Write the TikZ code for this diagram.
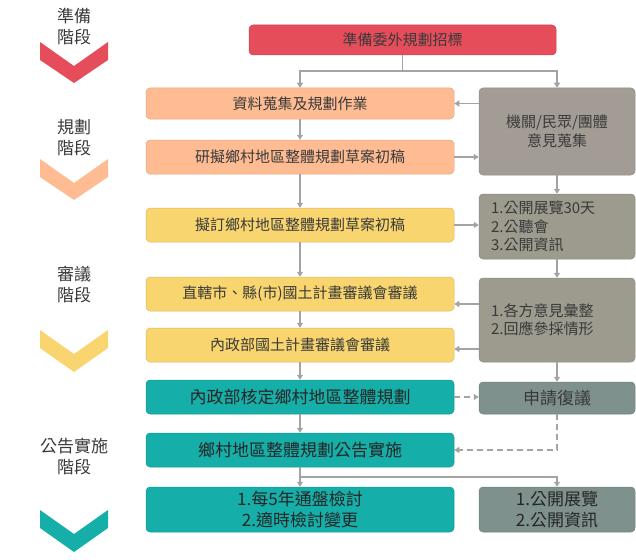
\documentclass[tikz,border=0pt]{standalone}
\usepackage{fontspec}
\setmainfont{Noto Sans CJK TC}
\usetikzlibrary{arrows.meta,calc}
\definecolor{cred}{HTML}{E64D5B}
\definecolor{corange}{HTML}{FFBC93}
\definecolor{cyellow}{HTML}{F8D56E}
\definecolor{cteal}{HTML}{16AEA8}
\definecolor{cgray}{HTML}{A39C95}
\definecolor{cgrayb}{HTML}{9D9A8E}
\definecolor{cgreen}{HTML}{7F918D}
\definecolor{ctext}{HTML}{3A3A3A}
\definecolor{cline}{HTML}{A3A3A3}
\begin{document}
\begin{tikzpicture}[x=1pt,y=-1pt,
  box/.style={rectangle,rounded corners=4pt,draw=#1!88!black,line width=0.5pt,fill=#1,
    text=ctext,inner sep=0pt,align=center},
  lbox/.style={box=#1,minimum width=308pt,minimum height=34pt,font=\fontsize{15}{18.5}\selectfont},
  rbox/.style={box=#1,minimum width=156pt,font=\fontsize{15}{18.5}\selectfont},
  tbox/.style={lbox=cteal,font=\fontsize{17}{20.5}\selectfont,text=black!85},
  stage/.style={align=center,text=ctext,font=\fontsize{17}{21}\selectfont,inner sep=0pt},
  conn/.style={draw=cline,line width=1.4pt},
  arr/.style={conn,-{Triangle[width=6pt,length=5pt]}},
  dsh/.style={arr,dash pattern=on 6pt off 4pt}]
\useasboundingbox (0,0) rectangle (636,559);

% stage labels and chevrons
\node[stage] (s1) at (74,26.5) {準備\\階段};
\node[stage] (s2) at (74,138) {規劃\\階段};
\node[stage] (s3) at (74,285) {審議\\階段};
\node[stage] (s4) at (74,456) {公告實施\\階段};
\fill[cred]    (40,42)  -- (74,66)  -- (108,42)  -- (108,60)  -- (74,83)  -- (40,60)  -- cycle;
\fill[corange] (40,159) -- (74,183) -- (108,159) -- (108,177) -- (74,200) -- (40,177) -- cycle;
\fill[cyellow] (40,330) -- (74,354) -- (108,330) -- (108,348) -- (74,372) -- (40,348) -- cycle;
\fill[cteal]   (40,510) -- (74,534) -- (108,510) -- (108,528) -- (74,552) -- (40,528) -- cycle;

% main column
\node[box=cred,minimum width=307pt,minimum height=30pt,font=\fontsize{15}{18.5}\selectfont] (red) at (402.5,40) {準備委外規劃招標};
\node[lbox=corange,minimum height=31pt] (b1) at (300,103.5) {資料蒐集及規劃作業};
\node[lbox=corange] (b2) at (300,157) {研擬鄉村地區整體規劃草案初稿};
\node[lbox=cyellow] (b3) at (300,225) {擬訂鄉村地區整體規劃草案初稿};
\node[lbox=cyellow] (b4) at (300,294) {直轄市、縣(市)國土計畫審議會審議};
\node[lbox=cyellow] (b5) at (300,345) {內政部國土計畫審議會審議};
\node[tbox] (b6) at (300,397) {內政部核定鄉村地區整體規劃};
\node[tbox] (b7) at (300,450) {鄉村地區整體規劃公告實施};
\node[tbox,minimum height=45pt] (b8) at (300,509.5) {1.每5年通盤檢討\\2.適時檢討變更};

% right column
\node[rbox=cgray,minimum height=87pt] (r1) at (557,131.5) {機關/民眾/團體\\意見蒐集};
\node[rbox=cgrayb,minimum height=65pt,text width=132pt,align=left] (r2) at (557,226.5) {1.公開展覽30天\\2.公聽會\\3.公開資訊};
\node[rbox=cgrayb,minimum height=84pt,text width=132pt,align=left] (r3) at (557,320) {1.各方意見彙整\\2.回應參採情形};
\node[rbox=cgreen,minimum height=32pt,font=\fontsize{17}{20.5}\selectfont] (r4) at (557,398) {申請復議};
\node[rbox=cgreen,minimum height=45pt,font=\fontsize{17}{20.5}\selectfont,text=black!85] (r5) at (557,509.5) {1.公開展覽\\2.公開資訊};

% connectors
\coordinate (j1) at (402.5,71);
\coordinate (jl) at (300,71);
\coordinate (jr) at (557,71);
\coordinate (j2) at (300,477);
\draw[conn] (red.south) -- (j1);
\draw[arr] (j1) -- (jl) -- (b1.north);
\draw[arr] (j1) -- (jr) -- (r1.north);
\draw[arr] (b1) -- (b2);
\draw[arr] (b2) -- (b3);
\draw[arr] (b3) -- (b4);
\draw[arr] (b4) -- (b5);
\draw[arr] (b5) -- (b6);
\draw[arr] (b6) -- (b7);
\draw[arr] (b7) -- (b8);
\draw[arr] (j2) -| (r5.north);
\draw[arr] (r1.west |- b1) -- (b1.east);
\draw[arr] (b2.east) -- (r1.west |- b2);
\draw[arr] (r1) -- (r2);
\draw[arr] (b3.east) -- (r2.west |- b3);
\draw[arr] (r2) -- (r3);
\draw[arr] ($(r3.west)+(0,-16)$) -- (b4.east |- {$(r3.west)+(0,-16)$});
\draw[arr] ($(r3.west)+(0,29)$) -- (b5.east |- {$(r3.west)+(0,29)$});
\draw[arr] (r3) -- (r4);
\draw[dsh] (b6.east) -- (r4.west |- b6);
\draw[dsh] (r4.south) |- (b7.east);
\end{tikzpicture}
\end{document}
